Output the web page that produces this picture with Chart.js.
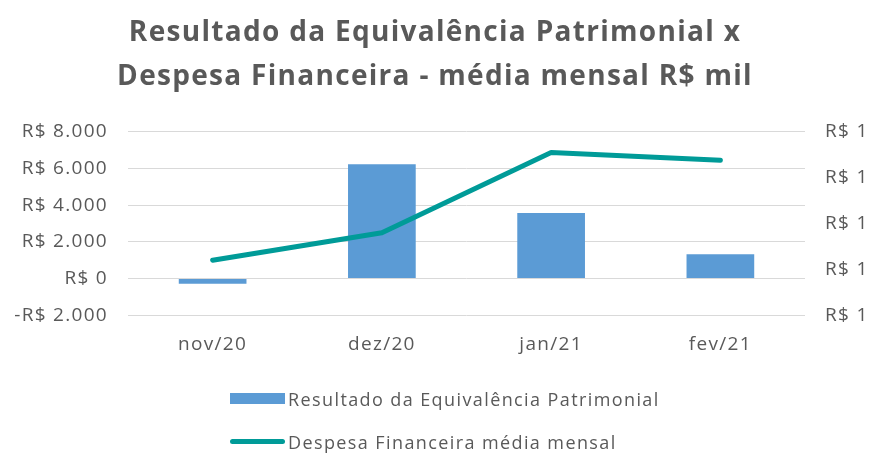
<!DOCTYPE html>
<html>
<head>
<meta charset="utf-8">
<script src="https://cdn.jsdelivr.net/npm/chart.js@4/dist/chart.umd.min.js"></script>
<style>
  html, body { margin: 0; padding: 0; background: #ffffff; }
  #wrap { position: relative; width: 872px; height: 453px; }
  #legend { position: absolute; left: 230px; top: 377px; font-family: "Open Sans", sans-serif; font-size: 18px; letter-spacing: 1.4px; color: #595959; }
  .item { display: flex; align-items: center; height: 43px; }
  .sw { width: 55px; margin-right: 3px; }
</style>
</head>
<body>
<div id="wrap">
  <canvas id="c" width="872" height="453"></canvas>
  <div id="legend"></div>
</div>
<script>
const categories = ["nov/20", "dez/20", "jan/21", "fev/21"];
const equivalencia = [-280, 6230, 3570, 1330];
const despesaFinanceira = [1.12, 1.18, 1.355, 1.338];
const seriesNames = ["Resultado da Equivalência Patrimonial", "Despesa Financeira média mensal"];
const titleLines = ["Resultado da Equivalência Patrimonial x", "Despesa Financeira - média mensal R$ mil"];

const grey = "#595959";
const fontFam = "'Open Sans', sans-serif";

function brl(v) {
  const abs = Math.abs(v);
  const s = abs.toFixed(0).replace(/\B(?=(\d{3})+(?!\d))/g, ".");
  return (v < 0 ? "-R$ " : "R$ ") + s;
}

const spacing = {
  id: "spacing",
  beforeUpdate(c) { c.ctx.letterSpacing = "1.3px"; },
  beforeLayout(c) { c.ctx.letterSpacing = "1.3px"; },
  beforeDraw(c) { c.ctx.letterSpacing = "1.3px"; }
};

const chart = new Chart(document.getElementById("c"), {
  data: {
    labels: categories,
    datasets: [
      {
        type: "line",
        label: seriesNames[1],
        data: despesaFinanceira,
        yAxisID: "y1",
        borderColor: "#009b98",
        backgroundColor: "#009b98",
        borderWidth: 5,
        pointRadius: 0,
        tension: 0,
        borderCapStyle: "round",
        borderJoinStyle: "round",
        order: 0
      },
      {
        type: "bar",
        label: seriesNames[0],
        data: equivalencia,
        yAxisID: "y",
        backgroundColor: "#5b9bd5",
        barPercentage: 0.4,
        categoryPercentage: 1.0,
        order: 1
      }
    ]
  },
  plugins: [spacing],
  options: {
    responsive: false,
    animation: false,
    layout: { padding: { left: 6, right: 8, top: 0, bottom: 87 } },
    plugins: {
      legend: { display: false },
      tooltip: { enabled: false },
      title: {
        display: true,
        text: titleLines,
        color: grey,
        font: { family: fontFam, size: 28, weight: "bold", lineHeight: 1.57 },
        padding: { top: 11, bottom: 33 }
      }
    },
    scales: {
      x: {
        grid: { display: false },
        border: { display: false },
        ticks: { color: grey, font: { family: fontFam, size: 19 }, padding: 10 }
      },
      y: {
        position: "left",
        min: -2000, max: 8000,
        afterFit: (s) => { s.width = 122; },
        ticks: { stepSize: 2000, color: grey, font: { family: fontFam, size: 19 }, padding: 20, callback: (v) => brl(v) },
        grid: { color: "#d9d9d9", lineWidth: 1, drawTicks: false },
        border: { display: false }
      },
      y1: {
        position: "right",
        min: 1.0, max: 1.4,
        afterFit: (s) => { s.width = 59; },
        ticks: { stepSize: 0.1, color: grey, font: { family: fontFam, size: 19 }, padding: 20, callback: (v) => "R$ " + Math.round(v) },
        grid: { display: false, drawTicks: false },
        border: { display: false }
      }
    }
  }
});

// HTML legend built from the datasets (bar first, then line)
const leg = document.getElementById("legend");
[chart.data.datasets[1], chart.data.datasets[0]].forEach(ds => {
  const row = document.createElement("div");
  row.className = "item";
  const sw = document.createElement("span");
  sw.className = "sw";
  if (ds.type === "bar") { sw.style.height = "11px"; sw.style.background = ds.backgroundColor; }
  else { sw.style.height = "5px"; sw.style.borderRadius = "3px"; sw.style.background = ds.borderColor; }
  const tx = document.createElement("span");
  tx.textContent = ds.label;
  row.appendChild(sw); row.appendChild(tx);
  leg.appendChild(row);
});
</script>
</body>
</html>
